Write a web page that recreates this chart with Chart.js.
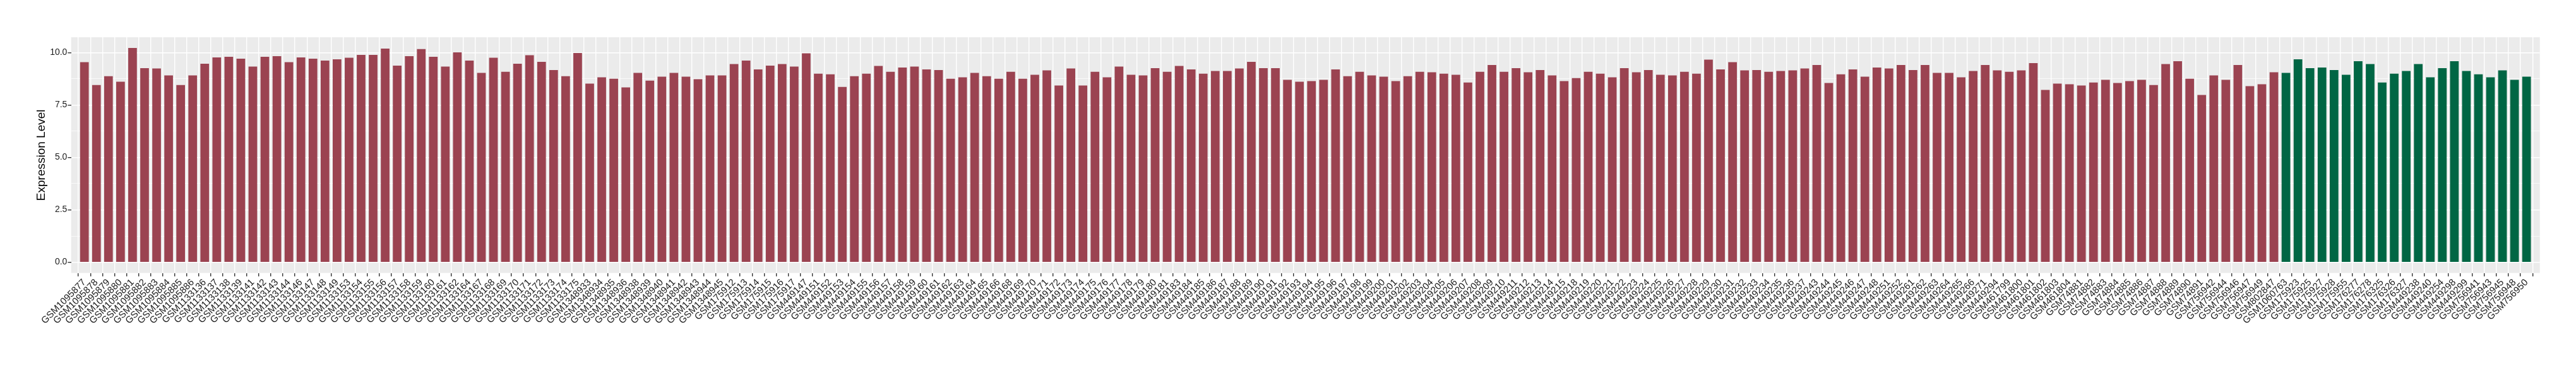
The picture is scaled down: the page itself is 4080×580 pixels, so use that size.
<!DOCTYPE html>
<html>
<head>
<meta charset="utf-8">
<script src="https://cdn.jsdelivr.net/npm/chart.js@4.4.1/dist/chart.umd.min.js"></script>
<style>
  html, body { margin: 0; padding: 0; background: #fff; }
  #wrap { width: 4080px; height: 580px; }
</style>
</head>
<body>
<div id="wrap"><canvas id="chart" width="4080" height="580"></canvas></div>
<script>
// Sample IDs, in plotting order
const samples = [
  'GSM1095877', 'GSM1095878', 'GSM1095879', 'GSM1095880', 'GSM1095881', 'GSM1095882', 'GSM1095883', 'GSM1095884',
  'GSM1095885', 'GSM1095886', 'GSM1133136', 'GSM1133137', 'GSM1133138', 'GSM1133139', 'GSM1133141', 'GSM1133142',
  'GSM1133143', 'GSM1133144', 'GSM1133146', 'GSM1133147', 'GSM1133148', 'GSM1133149', 'GSM1133153', 'GSM1133154',
  'GSM1133155', 'GSM1133156', 'GSM1133157', 'GSM1133158', 'GSM1133159', 'GSM1133160', 'GSM1133161', 'GSM1133162',
  'GSM1133164', 'GSM1133167', 'GSM1133168', 'GSM1133169', 'GSM1133170', 'GSM1133171', 'GSM1133172', 'GSM1133173',
  'GSM1133174', 'GSM1133175', 'GSM1348933', 'GSM1348934', 'GSM1348935', 'GSM1348936', 'GSM1348938', 'GSM1348939',
  'GSM1348940', 'GSM1348941', 'GSM1348942', 'GSM1348943', 'GSM1348944', 'GSM1348945', 'GSM175912', 'GSM175913',
  'GSM175914', 'GSM175915', 'GSM175916', 'GSM175917', 'GSM449147', 'GSM449151', 'GSM449152', 'GSM449153',
  'GSM449154', 'GSM449155', 'GSM449156', 'GSM449157', 'GSM449158', 'GSM449159', 'GSM449160', 'GSM449161',
  'GSM449162', 'GSM449163', 'GSM449164', 'GSM449165', 'GSM449166', 'GSM449168', 'GSM449169', 'GSM449170',
  'GSM449171', 'GSM449172', 'GSM449173', 'GSM449174', 'GSM449175', 'GSM449176', 'GSM449177', 'GSM449178',
  'GSM449179', 'GSM449180', 'GSM449181', 'GSM449183', 'GSM449184', 'GSM449185', 'GSM449186', 'GSM449187',
  'GSM449188', 'GSM449189', 'GSM449190', 'GSM449191', 'GSM449192', 'GSM449193', 'GSM449194', 'GSM449195',
  'GSM449196', 'GSM449197', 'GSM449198', 'GSM449199', 'GSM449200', 'GSM449201', 'GSM449202', 'GSM449203',
  'GSM449204', 'GSM449205', 'GSM449206', 'GSM449207', 'GSM449208', 'GSM449209', 'GSM449210', 'GSM449211',
  'GSM449212', 'GSM449213', 'GSM449214', 'GSM449215', 'GSM449218', 'GSM449219', 'GSM449220', 'GSM449221',
  'GSM449222', 'GSM449223', 'GSM449224', 'GSM449225', 'GSM449226', 'GSM449227', 'GSM449228', 'GSM449229',
  'GSM449230', 'GSM449231', 'GSM449232', 'GSM449233', 'GSM449234', 'GSM449235', 'GSM449236', 'GSM449237',
  'GSM449243', 'GSM449244', 'GSM449245', 'GSM449246', 'GSM449247', 'GSM449248', 'GSM449251', 'GSM449252',
  'GSM449261', 'GSM449262', 'GSM449263', 'GSM449264', 'GSM449265', 'GSM449266', 'GSM449271', 'GSM449294',
  'GSM461799', 'GSM461800', 'GSM461801', 'GSM461802', 'GSM461803', 'GSM461804', 'GSM74881', 'GSM74882',
  'GSM74883', 'GSM74884', 'GSM74885', 'GSM74886', 'GSM74887', 'GSM74888', 'GSM74889', 'GSM74890',
  'GSM74891', 'GSM756942', 'GSM756944', 'GSM756946', 'GSM756947', 'GSM756949', 'GSM802847',
  'GSM1060763', 'GSM175923', 'GSM175925', 'GSM175927', 'GSM175928', 'GSM175955', 'GSM176277', 'GSM176278',
  'GSM176325', 'GSM176326', 'GSM176327', 'GSM449238', 'GSM449240', 'GSM449254', 'GSM449298', 'GSM449299',
  'GSM756941', 'GSM756943', 'GSM756945', 'GSM756948', 'GSM756950'
];

// Expression level per sample
const values = [
  9.54, 8.45, 8.87, 8.61, 10.22, 9.26, 9.24, 8.91, 8.45, 8.91, 9.47, 9.77,
  9.80, 9.71, 9.33, 9.80, 9.83, 9.54, 9.77, 9.71, 9.62, 9.68, 9.75, 9.89, 9.89, 10.19, 9.38, 9.83, 10.17, 9.80,
  9.33, 10.01, 9.62, 9.03, 9.75, 9.08, 9.47, 9.87, 9.56, 9.17, 8.87, 9.98, 8.52, 8.82, 8.75, 8.34, 9.03,
  8.66,
  8.85, 9.03, 8.85, 8.73, 8.91, 8.91, 9.45, 9.62, 9.20, 9.38, 9.45, 9.33, 9.96, 8.99, 8.96, 8.36, 8.87,
  8.99, 9.36, 9.08, 9.29, 9.33, 9.20, 9.17, 8.75, 8.82, 9.03, 8.87, 8.75, 9.08, 8.75, 8.94, 9.15, 8.43, 9.24,
  8.43, 9.08, 8.82, 9.33, 8.94, 8.91, 9.26, 9.08, 9.36, 9.20, 8.99, 9.12, 9.12, 9.24, 9.56, 9.26, 9.26, 8.70,
  8.61, 8.64, 8.70, 9.20, 8.87, 9.08, 8.91, 8.85, 8.64, 8.87, 9.08, 9.06, 8.99, 8.94, 8.57, 9.08, 9.41, 9.08,
  9.26, 9.06, 9.17, 8.91, 8.64, 8.78, 9.08, 8.99, 8.82, 9.26, 9.06, 9.17, 8.94, 8.91, 9.08, 8.99, 9.66,
  9.20, 9.54, 9.15, 9.17, 9.08, 9.12, 9.15, 9.24, 9.41, 8.55, 8.96, 9.20, 8.85, 9.29, 9.24, 9.41, 9.17, 9.41,
  9.03, 9.03, 8.82, 9.12, 9.41, 9.15, 9.08, 9.15, 9.50, 8.22, 8.52, 8.49, 8.43, 8.57, 8.70, 8.55, 8.64, 8.70,
  8.45, 9.45, 9.59, 8.75, 7.98, 8.91, 8.70, 9.41, 8.40, 8.49, 9.06,
  9.03, 9.68, 9.26, 9.29, 9.17, 8.94, 9.59,
  9.45, 8.57, 8.99, 9.12, 9.45, 8.82, 9.26, 9.59, 9.12, 8.96, 8.82, 9.15, 8.70, 8.85
];

// How many samples fall in each group (in order) and the group fill colours
const groupSizes = [183, 21];
const groupColors = ['#9B4351', '#006644'];

// y axis breaks
const yMajorTicks = [0, 2.5, 5, 7.5, 10];
const yMinorTicks = [1.25, 3.75, 6.25, 8.75];

const FONT = "'Liberation Sans', Arial, Helvetica, sans-serif";

const barColors = [];
groupSizes.forEach((size, g) => {
    for (let i = 0; i < size; i++) barColors.push(groupColors[g]);
});

const maxVal = Math.max(...values);
const yPad = maxVal * 0.05;

// grey panel behind the bars
const panelBackground = {
    id: 'panelBackground',
    beforeDraw(chart) {
        const { ctx, chartArea } = chart;
        ctx.save();
        ctx.fillStyle = '#EBEBEB';
        ctx.fillRect(chartArea.left, chartArea.top, chartArea.right - chartArea.left, chartArea.bottom - chartArea.top);
        ctx.restore();
    }
};

const isMajor = v => yMajorTicks.includes(v);

new Chart(document.getElementById('chart').getContext('2d'), {
    type: 'bar',
    data: {
        datasets: [{
            data: values.map((v, i) => ({ x: i, y: v })),
            backgroundColor: barColors,
            borderWidth: 0,
            categoryPercentage: 1,
            barPercentage: 0.72
        }]
    },
    options: {
        responsive: false,
        animation: false,
        devicePixelRatio: 1,
        layout: {
            padding: { left: 50, right: 57.3, top: 59, bottom: 0 }
        },
        plugins: {
            legend: { display: false },
            tooltip: { enabled: false }
        },
        scales: {
            x: {
                type: 'linear',
                min: -0.6,
                max: samples.length - 1 + 0.6,
                afterBuildTicks: scale => {
                    scale.ticks = samples.map((_, i) => ({ value: i }));
                },
                afterFit: scale => { scale.height = 147.4; },
                border: { display: false },
                grid: {
                    color: '#FFFFFF',
                    lineWidth: 1.4,
                    tickColor: '#333333',
                    tickWidth: 1.4,
                    tickLength: 5.3
                },
                ticks: {
                    autoSkip: false,
                    maxRotation: 45,
                    minRotation: 45,
                    padding: 1,
                    color: '#1A1A1A',
                    font: { family: FONT, size: 15 },
                    callback: value => samples[value]
                }
            },
            y: {
                min: -yPad,
                max: maxVal + yPad,
                afterBuildTicks: scale => {
                    scale.ticks = [...yMajorTicks, ...yMinorTicks].sort((a, b) => a - b).map(v => ({ value: v }));
                },
                afterFit: scale => { scale.width = 62.7; },
                border: { display: false },
                grid: {
                    color: '#FFFFFF',
                    lineWidth: c => isMajor(c.tick.value) ? 1.4 : 0.7,
                    tickColor: c => isMajor(c.tick.value) ? '#333333' : 'rgba(0,0,0,0)',
                    tickWidth: 1.4,
                    tickLength: 5.3
                },
                ticks: {
                    padding: 1,
                    color: '#1A1A1A',
                    font: { family: FONT, size: 14 },
                    callback: value => isMajor(value) ? value.toFixed(1) : ''
                },
                title: {
                    display: true,
                    text: 'Expression Level',
                    color: '#000000',
                    font: { family: FONT, size: 19 },
                    padding: { top: 4, bottom: 0 }
                }
            }
        }
    },
    plugins: [panelBackground]
});
</script>
</body>
</html>
